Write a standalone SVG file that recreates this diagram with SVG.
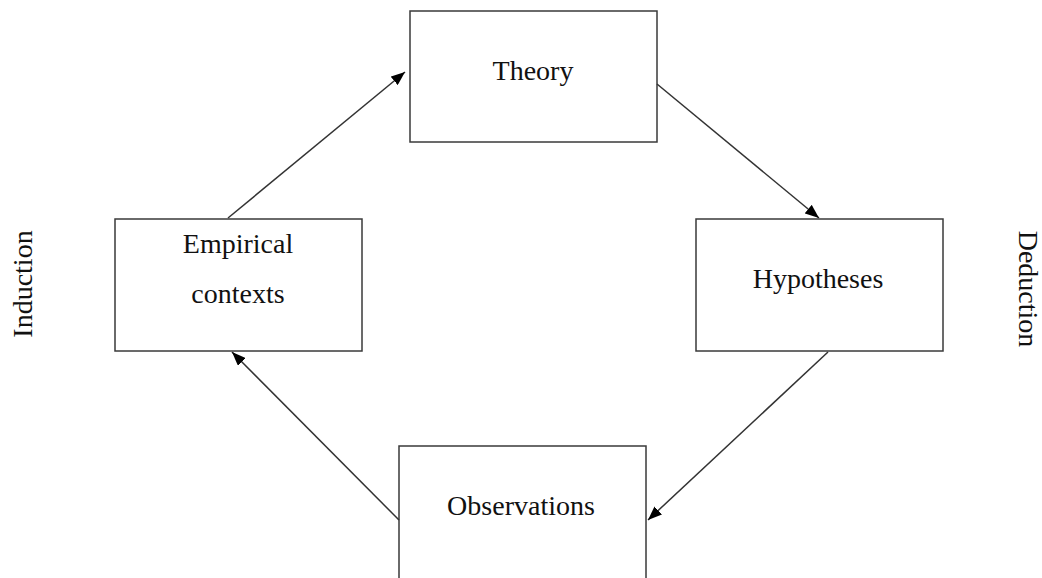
<svg xmlns="http://www.w3.org/2000/svg" width="1042" height="578" viewBox="0 0 1042 578">
  <style>
    .box { fill: #ffffff; stroke: #3a3a3a; stroke-width: 1.5; }
    .label { font-family: "Liberation Serif", "Times New Roman", serif; font-size: 28px; fill: #111111; text-anchor: middle; }
    .edge { stroke: #333333; stroke-width: 1.5; fill: none; marker-end: url(#arrow); }
  </style>
  <defs>
    <marker id="arrow" viewBox="0 0 14 11" refX="14" refY="5.5" markerWidth="14" markerHeight="11" markerUnits="userSpaceOnUse" orient="auto">
      <path d="M0,0 L14,5.5 L0,11 Z" fill="#000000"/>
    </marker>
  </defs>
  <rect width="1042" height="578" fill="#ffffff"/>

  <g id="node-theory">
    <rect class="box" x="410" y="11" width="247" height="131"/>
    <text class="label" x="533" y="80">Theory</text>
  </g>
  <g id="node-empirical">
    <rect class="box" x="115" y="219" width="247" height="132"/>
    <text class="label" x="238" y="253">Empirical</text>
    <text class="label" x="238" y="303">contexts</text>
  </g>
  <g id="node-hypotheses">
    <rect class="box" x="696" y="219" width="247" height="132"/>
    <text class="label" x="818" y="288">Hypotheses</text>
  </g>
  <g id="node-observations">
    <rect class="box" x="399" y="446" width="247" height="140"/>
    <text class="label" x="521" y="515">Observations</text>
  </g>

  <g id="side-labels">
    <text class="label" transform="translate(32,284) rotate(-90)">Induction</text>
    <text class="label" transform="translate(1019,289) rotate(90)">Deduction</text>
  </g>

  <g id="connectors">
    <line class="edge" x1="228" y1="218" x2="405" y2="72"/>
    <line class="edge" x1="657" y1="84" x2="819" y2="218"/>
    <line class="edge" x1="828" y1="352" x2="648" y2="520"/>
    <line class="edge" x1="399" y1="520" x2="232" y2="352"/>
  </g>
</svg>
